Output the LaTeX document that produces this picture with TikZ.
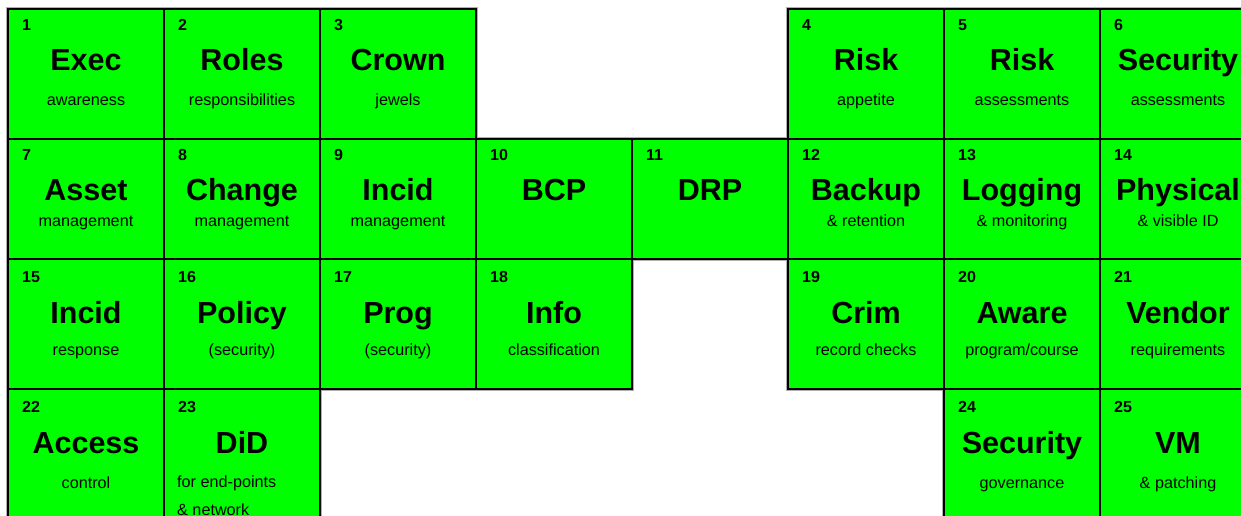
\documentclass[tikz,border=0pt]{standalone}
\usepackage{fontspec}
\setmainfont{Liberation Sans}
\usetikzlibrary{calc,backgrounds}
\definecolor{cellGreen}{RGB}{0,255,0}
\definecolor{cellEdge}{RGB}{0,0,0}
\definecolor{cellGlow}{RGB}{175,175,175}

\begin{document}
\begin{tikzpicture}[x=1pt, y=-1pt,
  cellbox/.style={draw=cellEdge, fill=cellGreen, line width=1.8pt, anchor=north west,
                  inner sep=0pt, outer sep=0pt, minimum width=156pt, minimum height=#1pt},
  numlabel/.style={font=\fontsize{16}{19}\selectfont\bfseries, anchor=base west, inner sep=0pt},
  titlelabel/.style={font=\fontsize{30.5}{36}\selectfont\bfseries, anchor=base, inner sep=0pt},
  sublabel/.style={font=\fontsize{16.2}{28}\selectfont, anchor=base, inner sep=0pt},
  glow/.style={draw=cellGlow, line width=4.5pt},
]

\def\cw{156}  % cell width
\def\xo{8}    % left edge of first column

\useasboundingbox (0,0) rectangle (1241,516);
\clip (0,0) rectangle (1241,516);

% ─── Row 1 ─────────────────────────────────────────────────────
\def\y{9}
\foreach \n/\c/\ti/\su in {1/1/Exec/awareness, 2/2/Roles/responsibilities,
                           3/3/Crown/jewels, 4/6/Risk/appetite,
                           5/7/Risk/assessments, 6/8/Security/assessments}{
  \node[cellbox=130] (cell\n) at ({\xo+(\c-1)*\cw}, \y) {};
  \node[numlabel] (num\n) at ($(cell\n.north west)+(14,22)$) {\n};
  \node[titlelabel] (title\n) at ($(cell\n.north)+(0,62)$) {\ti};
  \node[sublabel] (sub\n) at ($(cell\n.north)+(0,97)$) {\su};
}

% ─── Row 2 ─────────────────────────────────────────────────────
\def\y{139}
\foreach \n/\c/\ti/\su in {7/1/Asset/management, 8/2/Change/management,
                           9/3/Incid/management, 10/4/BCP/{}, 11/5/DRP/{},
                           12/6/Backup/{\& retention}, 13/7/Logging/{\& monitoring},
                           14/8/Physical/{\& visible ID}}{
  \node[cellbox=120] (cell\n) at ({\xo+(\c-1)*\cw}, \y) {};
  \node[numlabel] (num\n) at ($(cell\n.north west)+(14,21)$) {\n};
  \node[titlelabel] (title\n) at ($(cell\n.north)+(0,61)$) {\ti};
  \node[sublabel] (sub\n) at ($(cell\n.north)+(0,87)$) {\su};
}

% ─── Row 3 ─────────────────────────────────────────────────────
\def\y{259}
\foreach \n/\c/\ti/\su in {15/1/Incid/response, 16/2/Policy/(security),
                           17/3/Prog/(security), 18/4/Info/classification,
                           19/6/Crim/{record checks}, 20/7/Aware/{program/course},
                           21/8/Vendor/requirements}{
  \node[cellbox=130] (cell\n) at ({\xo+(\c-1)*\cw}, \y) {};
  \node[numlabel] (num\n) at ($(cell\n.north west)+(14,23)$) {\n};
  \node[titlelabel] (title\n) at ($(cell\n.north)+(0,64)$) {\ti};
  \node[sublabel] (sub\n) at ($(cell\n.north)+(0,96)$) {\su};
}

% ─── Row 4 ─────────────────────────────────────────────────────
\def\y{389}
\foreach \n/\c/\ti/\su in {22/1/Access/control, 23/2/DiD/{},
                           24/7/Security/governance, 25/8/VM/{\& patching}}{
  \node[cellbox=140] (cell\n) at ({\xo+(\c-1)*\cw}, \y) {};
  \node[numlabel] (num\n) at ($(cell\n.north west)+(14,23)$) {\n};
  \node[titlelabel] (title\n) at ($(cell\n.north)+(0,64)$) {\ti};
  \node[sublabel] (sub\n) at ($(cell\n.north)+(0,99)$) {\su};
}
% wrapped text in cell 23
\node[sublabel, anchor=north west, align=left] (sub23b)
     at ($(cell23.north west)+(13,87)$) {for end-points\\\& network};

% ─── soft grey rim round the block ─────────────────────────────
\begin{pgfonlayer}{background}
  \foreach \n in {1,...,25}{
    \draw[glow] (cell\n.north west) rectangle (cell\n.south east);
  }
\end{pgfonlayer}

\end{tikzpicture}
\end{document}
